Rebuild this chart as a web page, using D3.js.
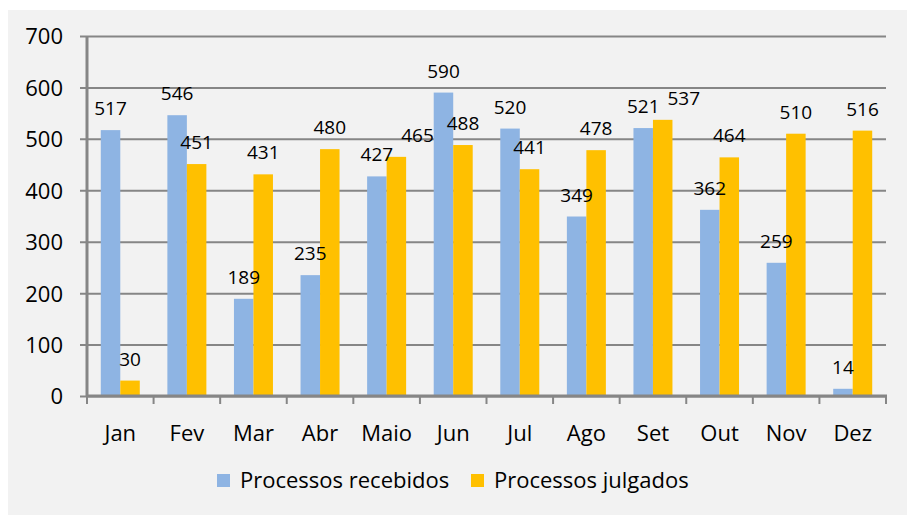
<!DOCTYPE html>
<html>
<head>
<meta charset="utf-8">
<script src="https://cdn.jsdelivr.net/npm/d3@7"></script>
<style>
  body { margin: 0; background: #ffffff; }
  text { font-family: "Open Sans", "Noto Sans", sans-serif; fill: #000; }
</style>
</head>
<body>
<div id="chart"></div>
<script>
// data
var months = ["Jan", "Fev", "Mar", "Abr", "Maio", "Jun", "Jul", "Ago", "Set", "Out", "Nov", "Dez"];
var recebidos = [517, 546, 189, 235, 427, 590, 520, 349, 521, 362, 259, 14];
var julgados = [30, 451, 431, 480, 465, 488, 441, 478, 537, 464, 510, 516];
var yTicks = [0, 100, 200, 300, 400, 500, 600, 700];
var seriesNames = ["Processos recebidos", "Processos julgados"];
var colors = ["#8eb4e3", "#ffc000"];

var svgWidth = 907;
var svgHeight = 517;

var margin = { top: 36, right: 21, bottom: 121, left: 87 };
var width = svgWidth - margin.left - margin.right;
var height = svgHeight - margin.top - margin.bottom;

var svg = d3.select("#chart")
  .append("svg")
  .attr("width", svgWidth)
  .attr("height", svgHeight);

// gray panel
svg.append("rect")
  .attr("x", 8)
  .attr("y", 10)
  .attr("width", svgWidth - 8)
  .attr("height", 505)
  .attr("fill", "#f2f2f2");

var chartGroup = svg.append("g")
  .attr("transform", `translate(${margin.left}, ${margin.top})`);

var xScale = d3.scaleBand()
  .domain(months)
  .range([0, width]);

var yScale = d3.scaleLinear()
  .domain([0, 700])
  .range([height, 0]);

var grayLine = "#868686";

// gridlines + left axis
var leftAxis = d3.axisLeft(yScale)
  .tickValues(yTicks)
  .tickSize(-width)
  .tickSizeOuter(0)
  .tickPadding(24);

var yAxis = chartGroup.append("g")
  .call(leftAxis);
yAxis.select(".domain").remove();
yAxis.selectAll(".tick line")
  .attr("x1", -7)
  .attr("stroke", grayLine)
  .attr("stroke-width", 2);
yAxis.selectAll(".tick text")
  .style("font-size", "22px")
  .attr("dy", "0.36em");

// vertical axis line
chartGroup.append("line")
  .attr("x1", 0).attr("x2", 0)
  .attr("y1", 0).attr("y2", height)
  .attr("stroke", grayLine)
  .attr("stroke-width", 3);

// bars
var inner = d3.scaleBand()
  .domain([0, 1])
  .range([0, 39]);
var offset = (xScale.bandwidth() - 39) / 2;

var groups = chartGroup.selectAll(".month")
  .data(months)
  .enter()
  .append("g")
  .attr("transform", d => `translate(${xScale(d) + offset}, 0)`);

var allSeries = [recebidos, julgados];

allSeries.forEach(function(series, s) {
  groups.append("rect")
    .attr("x", inner(s))
    .attr("y", (d, i) => yScale(series[i]))
    .attr("width", inner.bandwidth())
    .attr("height", (d, i) => height - yScale(series[i]))
    .attr("fill", colors[s]);
});

// data labels drawn after all bars
var labels = [[], []];
allSeries.forEach(function(series, s) {
  groups.append("text")
    .attr("x", inner(s) + inner.bandwidth() / 2)
    .attr("y", (d, i) => yScale(series[i]) - 15)
    .attr("text-anchor", "middle")
    .style("font-size", "19px")
    .text((d, i) => series[i])
    .each(function() { labels[s].push(this); });
});

// nudge a julgados label right if it collides with its neighbour
months.forEach(function(m, i) {
  var a = labels[0][i].getBBox();
  var b = labels[1][i].getBBox();
  var overlapX = a.x + a.width - b.x;
  var overlapY = Math.min(a.y + a.height, b.y + b.height) - Math.max(a.y, b.y);
  if (overlapX > 0 && overlapY > 0) {
    var sel = d3.select(labels[1][i]);
    sel.attr("x", +sel.attr("x") + overlapX + 8);
  }
});

// bottom axis
var bottomAxis = d3.axisBottom(xScale)
  .tickSize(0)
  .tickPadding(29);
var xAxis = chartGroup.append("g")
  .attr("transform", `translate(0, ${height})`)
  .call(bottomAxis);
xAxis.select(".domain").remove();
xAxis.selectAll(".tick text")
  .style("font-size", "22px");

chartGroup.append("line")
  .attr("x1", -1).attr("x2", width + 1)
  .attr("y1", height).attr("y2", height)
  .attr("stroke", grayLine)
  .attr("stroke-width", 3);

// tick marks at band boundaries
var boundaries = months.map(d => xScale(d)).concat([width]);
chartGroup.selectAll(".xtick")
  .data(boundaries)
  .enter()
  .append("line")
  .attr("x1", d => d).attr("x2", d => d)
  .attr("y1", height).attr("y2", height + 8)
  .attr("stroke", grayLine)
  .attr("stroke-width", 2);

// legend
var legendX = [217, 471];
var legend = svg.selectAll(".legend")
  .data(seriesNames)
  .enter()
  .append("g")
  .attr("transform", (d, i) => `translate(${legendX[i]}, 474)`);
legend.append("rect")
  .attr("width", 13)
  .attr("height", 13)
  .attr("fill", (d, i) => colors[i]);
legend.append("text")
  .attr("x", 23)
  .attr("y", 14)
  .style("font-size", "22px")
  .text(d => d);
</script>
</body>
</html>
